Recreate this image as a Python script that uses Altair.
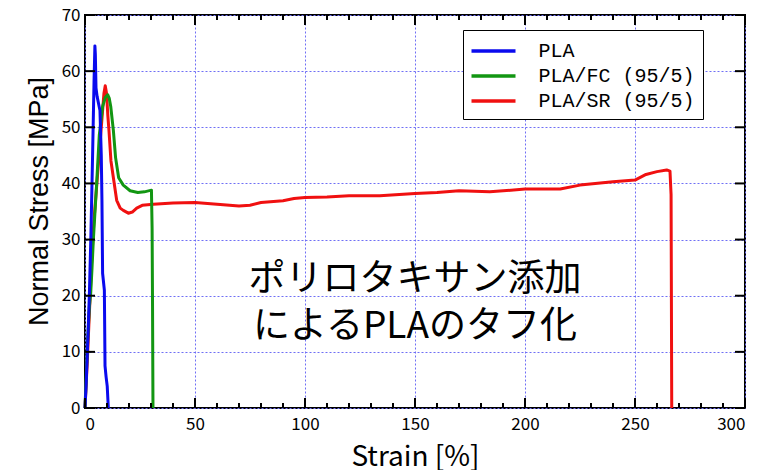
import altair as alt
import pandas as pd

# ---------------- data ----------------
series_names = ["PLA", "PLA/FC (95/5)", "PLA/SR (95/5)"]
series_colors = ["#0a0aee", "#129612", "#f01010"]

pla_strain = [0, 0.5, 1.4, 2.0, 2.7, 3.5, 4.1, 4.5, 4.7, 5.0, 5.5, 6.8, 7.4, 7.7, 8.0, 8.8, 9.1, 9.6, 10.1, 10.6]
pla_stress = [0, 4, 13.4, 20.5, 31, 46, 58, 64.5, 63, 57, 55.5, 53, 45, 37, 24, 21, 7.5, 5.5, 3.9, 0]

fc_strain = [0, 0.5, 1.2, 2.0, 2.6, 3.2, 3.8, 5.3, 6.5, 8.0, 9.2, 10.3, 11.0, 11.7, 12.9, 13.9, 15.3,
             17.4, 20.5, 24, 27, 30.2, 30.5, 30.7, 30.9]
fc_stress = [0, 5, 12, 18, 20.5, 25, 30, 40, 48.6, 53.7, 55.3, 55.8, 55.2, 53.7, 49.4, 44.6, 41,
             39.7, 38.7, 38.4, 38.5, 38.8, 32, 18, 0]

sr_strain = [0, 1.0, 2.0, 3.0, 4.0, 5.0, 5.8, 6.8, 7.8, 8.6, 9.2, 9.8, 10.4, 10.9, 11.8, 12.9, 14.4,
             16, 17.4, 19.7, 21.5, 23.5, 26, 31, 40, 50, 60, 70, 75, 80, 90, 95, 100, 110, 120, 134,
             150, 160, 170, 184, 200, 216, 225, 240, 250, 255, 260, 264.4, 265.9, 266.4, 266.7]
sr_stress = [0, 8, 17, 26, 33, 38, 42, 47, 52, 56, 57.4, 56, 52, 49.4, 44, 41, 37,
             35.6, 35.2, 34.7, 34.9, 35.6, 36.1, 36.3, 36.5, 36.6, 36.3, 36.0, 36.1, 36.6, 36.9, 37.3, 37.5, 37.6, 37.8, 37.8,
             38.2, 38.4, 38.7, 38.5, 39.0, 39.0, 39.7, 40.3, 40.6, 41.6, 42.1, 42.4, 42.2, 38, 0]

x_major_ticks = [0, 50, 100, 150, 200, 250, 300]
x_minor_ticks = [10, 20, 30, 40, 60, 70, 80, 90, 110, 120, 130, 140, 160, 170, 180, 190,
                 210, 220, 230, 240, 260, 270, 280, 290]
y_ticks = [0, 10, 20, 30, 40, 50, 60, 70]

note_lines = ["ポリロタキサン添加", "によるPLAのタフ化"]
note_strain = [150, 150]
note_stress = [22.8, 14.4]

# ---------------- frames ----------------
def series_df(name, xs, ys):
    return pd.DataFrame({"series": name, "strain": xs, "stress": ys, "idx": list(range(len(xs)))})

df_pla = series_df(series_names[0], pla_strain, pla_stress)
df_fc = series_df(series_names[1], fc_strain, fc_stress)
df_sr = series_df(series_names[2], sr_strain, sr_stress)

W, H = 660, 393
X0, X1, Y0, Y1 = 0, 300, 0, 70

xscale = alt.Scale(domain=[X0, X1], nice=False, zero=False)
yscale = alt.Scale(domain=[Y0, Y1], nice=False, zero=False)

xaxis = alt.Axis(
    values=x_major_ticks, title="Strain [%]", ticks=False, domain=False,
    grid=True, gridColor="#6f6ff5", gridDash=[2, 2], gridWidth=1,
    labelFont="Noto Sans CJK JP", labelFontSize=17, labelColor="black", labelPadding=8,
    titleFont="Noto Sans CJK JP", titleFontSize=28, titleFontWeight="normal", titleColor="black",
    titleX=W / 2, titleY=49, titleBaseline="middle", titleAlign="center",
)
yaxis = alt.Axis(
    values=y_ticks, title="Normal Stress [MPa]", ticks=False, domain=False,
    grid=True, gridColor="#6f6ff5", gridDash=[2, 2], gridWidth=1,
    labelFont="Noto Sans CJK JP", labelFontSize=17, labelColor="black", labelPadding=5,
    titleFont="Liberation Sans", titleFontSize=27, titleFontWeight="normal", titleColor="black",
    titleX=-46, titleY=186, titleBaseline="middle", titleAlign="center", titleAngle=-90,
)

xenc = alt.X("strain:Q", scale=xscale, axis=xaxis)
yenc = alt.Y("stress:Q", scale=yscale, axis=yaxis)

colorenc = alt.Color(
    "series:N",
    scale=alt.Scale(domain=series_names, range=series_colors),
    legend=alt.Legend(
        orient="none", legendX=378, legendY=15, title=None,
        symbolType="M-2,0H2", symbolSize=484, symbolStrokeWidth=3.5,
        symbolOffset=9.5, labelOffset=32,
        labelFont="Liberation Mono", labelFontSize=20, labelColor="black", labelLimit=400,
        padding=8, rowPadding=2, strokeColor="black", fillColor="white",
    ),
)

def line_layer(df):
    return alt.Chart(df).mark_line(strokeWidth=3, strokeJoin="round").encode(
        x=xenc, y=yenc, color=colorenc, order="idx:Q"
    )

lines = [line_layer(df_sr), line_layer(df_fc), line_layer(df_pla)]

# ---------------- inward tick marks (short segments, length in px converted to data units) ----------------
ux = (X1 - X0) / W   # strain per pixel
uy = (Y1 - Y0) / H   # stress per pixel

seg_rows = []
def add_seg(tid, x_a, y_a, x_b, y_b):
    seg_rows.append({"tid": tid, "pt": 0, "strain": x_a, "stress": y_a})
    seg_rows.append({"tid": tid, "pt": 1, "strain": x_b, "stress": y_b})

for v in x_major_ticks:
    add_seg(f"xb{v}", v, Y0, v, Y0 + 10 * uy)
    add_seg(f"xt{v}", v, Y1, v, Y1 - 10 * uy)
for v in x_minor_ticks:
    add_seg(f"mb{v}", v, Y0, v, Y0 + 5 * uy)
    add_seg(f"mt{v}", v, Y1, v, Y1 - 5 * uy)
for v in y_ticks:
    add_seg(f"yl{v}", X0, v, X0 + 10 * ux, v)
    add_seg(f"yr{v}", X1, v, X1 - 10 * ux, v)

tick_df = pd.DataFrame(seg_rows)
ticks = alt.Chart(tick_df).mark_line(color="#000000", strokeWidth=2, opacity=1).encode(
    x=xenc, y=yenc, detail="tid:N", order="pt:Q"
)

note_df = pd.DataFrame({"label": note_lines, "strain": note_strain, "stress": note_stress})
note = alt.Chart(note_df).mark_text(
    font="Noto Sans CJK JP", fontSize=37, color="black", align="center", baseline="middle"
).encode(x=xenc, y=yenc, text="label:N")

chart = alt.layer(*lines, ticks, note).properties(
    width=W, height=H,
    autosize=alt.AutoSizeParams(type="none"),
    padding={"left": 77, "top": 7, "right": 10, "bottom": 62},
    background="white",
).configure_view(stroke="black", strokeWidth=2)

chart.save("out.html", embed_options={"renderer": "svg", "actions": False})
